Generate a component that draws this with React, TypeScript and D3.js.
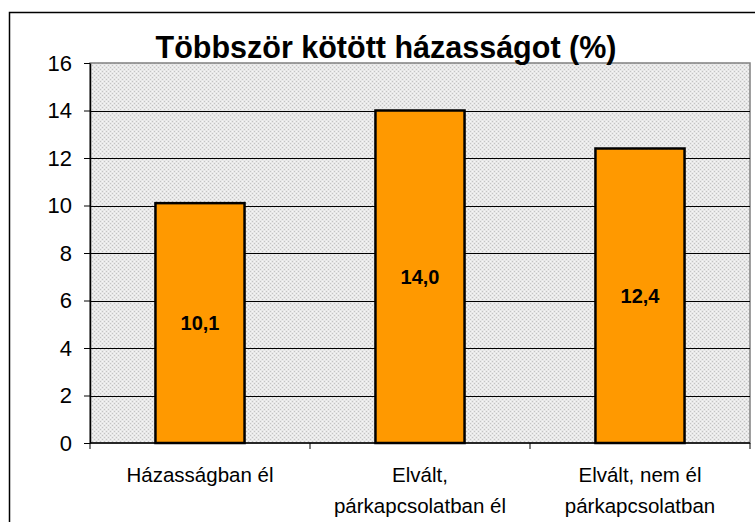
import React, { useRef, useEffect } from 'react';
import * as d3 from 'd3';

const categories = [['Házasságban él'], ['Elvált,', 'párkapcsolatban él'], ['Elvált, nem él', 'párkapcsolatban']];
const values = [10.1, 14.0, 12.4];
const yTicks = [0, 2, 4, 6, 8, 10, 12, 14, 16];
const title = 'Többször kötött házasságot (%)';

const App: React.FC = () => {
    const ref = useRef<SVGSVGElement>(null);

    useEffect(() => {
        if (!ref.current) return;
        const svg = d3.select(ref.current);
        svg.selectAll("*").remove();

        const width = 755;
        const height = 522;
        const margin = { top: 63, right: 5, bottom: 79, left: 90 };
        const innerWidth = width - margin.left - margin.right;
        const innerHeight = height - margin.top - margin.bottom;
        const font = "'Liberation Sans', Arial, sans-serif";

        // hatched background pattern
        const defs = svg.append("defs");
        const pat = defs.append("pattern")
            .attr("id", "dots").attr("width", 4).attr("height", 4)
            .attr("patternUnits", "userSpaceOnUse");
        pat.append("rect").attr("width", 4).attr("height", 4).attr("fill", "#e8e8e8");
        pat.append("rect").attr("x", 0).attr("y", 0).attr("width", 1).attr("height", 1).attr("fill", "#c4c4c4");
        pat.append("rect").attr("x", 2).attr("y", 2).attr("width", 1).attr("height", 1).attr("fill", "#c4c4c4");
        pat.append("rect").attr("x", 2).attr("y", 0).attr("width", 1).attr("height", 1).attr("fill", "#f6f6f6");
        pat.append("rect").attr("x", 0).attr("y", 2).attr("width", 1).attr("height", 1).attr("fill", "#f6f6f6");

        svg.append("rect")
            .attr("x", 9.5).attr("y", 12.5).attr("width", width).attr("height", height)
            .attr("fill", "white").attr("stroke", "black").attr("stroke-width", 1.5);

        const g = svg.append("g").attr("transform", `translate(${margin.left},${margin.top})`);

        const xScale = d3.scaleBand<number>()
            .domain(d3.range(values.length))
            .range([0, innerWidth])
            .paddingInner(0.595).paddingOuter(0.2975);
        const yScale = d3.scaleLinear().domain([0, 16]).range([innerHeight, 0]);

        g.append("rect")
            .attr("width", innerWidth).attr("height", innerHeight)
            .attr("fill", "url(#dots)")
            .attr("stroke", "#808080").attr("stroke-width", 1.5);

        // gridlines
        g.selectAll(".grid")
            .data(yTicks.filter(t => t > 0 && t < 16))
            .enter().append("line")
            .attr("x1", 0).attr("x2", innerWidth)
            .attr("y1", d => Math.round(yScale(d)) + 0.5).attr("y2", d => Math.round(yScale(d)) + 0.5)
            .attr("stroke", "black").attr("stroke-width", 1);

        // y axis
        const yAxis = g.append("g")
            .call(d3.axisLeft(yScale).tickValues(yTicks).tickSize(6).tickPadding(12).tickSizeOuter(0));
        yAxis.select(".domain").attr("stroke", "black").attr("stroke-width", 1.5);
        yAxis.selectAll(".tick line").attr("stroke", "black");
        yAxis.selectAll("text").attr("font-family", font).attr("font-size", 22).attr("fill", "black");

        // x axis
        const xAxisG = g.append("g").attr("transform", `translate(0,${innerHeight})`);
        xAxisG.append("line").attr("x1", 0).attr("x2", innerWidth).attr("stroke", "black").attr("stroke-width", 1.5);
        const boundaries = d3.range(values.length + 1).map(i => (innerWidth / values.length) * i);
        xAxisG.selectAll(".xt").data(boundaries).enter().append("line")
            .attr("x1", d => d).attr("x2", d => d).attr("y1", 0).attr("y2", 6)
            .attr("stroke", "black");

        categories.forEach((lines, i) => {
            const cx = (xScale(i) as number) + xScale.bandwidth() / 2;
            const t = xAxisG.append("text")
                .attr("text-anchor", "middle")
                .attr("font-family", font).attr("font-size", 20.5).attr("fill", "black");
            lines.forEach((l, j) => {
                t.append("tspan").attr("x", cx).attr("y", 39 + j * 31).text(l);
            });
        });

        // bars
        g.selectAll(".bar").data(values).enter().append("rect")
            .attr("x", (d, i) => xScale(i) as number)
            .attr("y", d => yScale(d))
            .attr("width", xScale.bandwidth())
            .attr("height", d => innerHeight - yScale(d))
            .attr("fill", "#FF9900").attr("stroke", "black").attr("stroke-width", 2.5);

        g.selectAll(".lbl").data(values).enter().append("text")
            .attr("x", (d, i) => (xScale(i) as number) + xScale.bandwidth() / 2)
            .attr("y", d => (yScale(d) + innerHeight) / 2 + 7)
            .attr("text-anchor", "middle")
            .attr("font-family", font).attr("font-weight", "bold").attr("font-size", 20)
            .text(d => d.toFixed(1).replace('.', ','));

        svg.append("text")
            .attr("x", 386).attr("y", 58)
            .attr("text-anchor", "middle")
            .attr("font-family", font).attr("font-weight", "bold").attr("font-size", 30.5)
            .text(title);
    }, []);

    return <svg ref={ref} width={755} height={522} style={{ position: 'absolute', left: 0, top: 0 }} />;
};

export default App;
